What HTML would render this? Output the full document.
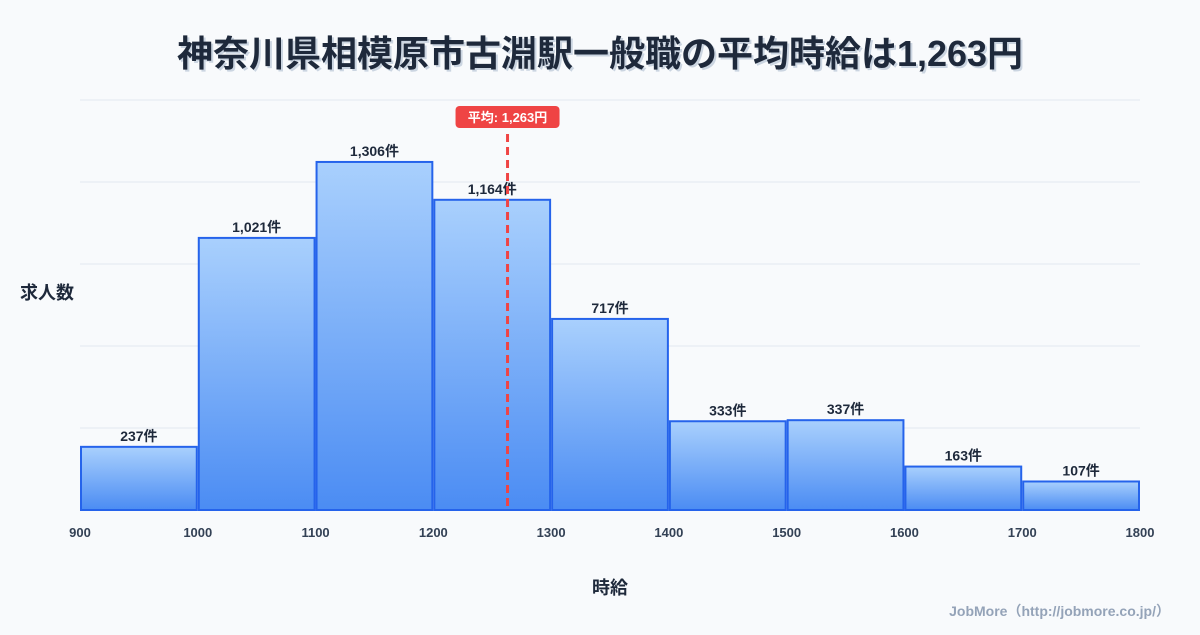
<!DOCTYPE html>
<html><head><meta charset="utf-8"><style>
body{margin:0;background:#f8fafc;font-family:"Liberation Sans","Noto Sans CJK JP",sans-serif;}
svg text{font-family:"Liberation Sans","Noto Sans CJK JP",sans-serif;}
</style></head><body>
<svg id="c" width="1200" height="630" xmlns="http://www.w3.org/2000/svg">
<defs>
<linearGradient id="g" x1="0" y1="0" x2="0" y2="1"><stop offset="0" stop-color="#a9d0fd"/><stop offset="1" stop-color="#4b8cf3"/></linearGradient>
</defs>
<rect width="1200" height="630" fill="#f8fafc"/>
<text x="602" y="68" text-anchor="middle" font-size="36" font-weight="bold" fill="#cbd5e1">神奈川県相模原市古淵駅一般職の平均時給は1,263円</text>
<text x="600" y="66" text-anchor="middle" font-size="36" font-weight="bold" fill="#1e293b">神奈川県相模原市古淵駅一般職の平均時給は1,263円</text>
<g id="grid"></g><g id="bars"></g><g id="ticks"></g><g id="avg"></g>
<text x="20" y="299" font-size="18" font-weight="bold" fill="#1e293b">求人数</text>
<text x="610" y="594" text-anchor="middle" font-size="18" font-weight="bold" fill="#1e293b">時給</text>
<text x="1170" y="616" text-anchor="end" font-size="14" font-weight="bold" fill="#94a3b8">JobMore（http://jobmore.co.jp/）</text>
</svg>
<script>
const binStarts=[900,1000,1100,1200,1300,1400,1500,1600,1700];
const counts=[237,1021,1306,1164,717,333,337,163,107];
const xTicks=[900,1000,1100,1200,1300,1400,1500,1600,1700,1800];
const avgValue=1263;
const NS="http://www.w3.org/2000/svg";
const x0=80,x1=1140,yB=510,yT=100;
const xs=v=>x0+(v-900)/(900)*(x1-x0);
const yMax=Math.max(...counts)*1.178;
const ys=v=>yB-v/yMax*(yB-yT);
function mk(t,a,p){const e=document.createElementNS(NS,t);for(const k in a)e.setAttribute(k,a[k]);p.appendChild(e);return e;}
const grid=document.getElementById('grid');
for(let i=0;i<=5;i++){const y=yB-i*(yB-yT)/5;const l=mk('line',{x1:x0,x2:x1,y1:y,y2:y,stroke:'#e2e8f0','stroke-width':1},grid);

}
const bars=document.getElementById('bars');
counts.forEach((c,i)=>{const xa=xs(binStarts[i])+1,xb=xs(binStarts[i]+100)-1;
const r=mk('rect',{x:xa,y:ys(c),width:xb-xa,height:yB-ys(c),fill:'url(#g)',stroke:'#2563eb','stroke-width':2},bars);


const t=mk('text',{x:(xa+xb)/2,y:ys(c)-6,'text-anchor':'middle','font-size':14,'font-weight':'bold',fill:'#1e293b'},bars);
t.textContent=c.toLocaleString('en-US')+'件';

});
const tk=document.getElementById('ticks');
xTicks.forEach(v=>{const t=mk('text',{x:xs(v),y:537,'text-anchor':'middle','font-size':13,'font-weight':'bold',fill:'#334155'},tk);
t.textContent=v;

});
const av=document.getElementById('avg');const ax=xs(avgValue);
const l=mk('line',{x1:ax,x2:ax,y1:134,y2:yB,stroke:'#ef4444','stroke-width':3,'stroke-dasharray':'8,5'},av);


const b=mk('rect',{x:ax-52,y:106,width:104,height:22,rx:4,fill:'#ef4444'},av);


const at=mk('text',{x:ax,y:122,'text-anchor':'middle','font-size':13,'font-weight':'bold',fill:'#fff'},av);
at.textContent='平均: '+avgValue.toLocaleString('en-US')+'円';


</script>
</body></html>
